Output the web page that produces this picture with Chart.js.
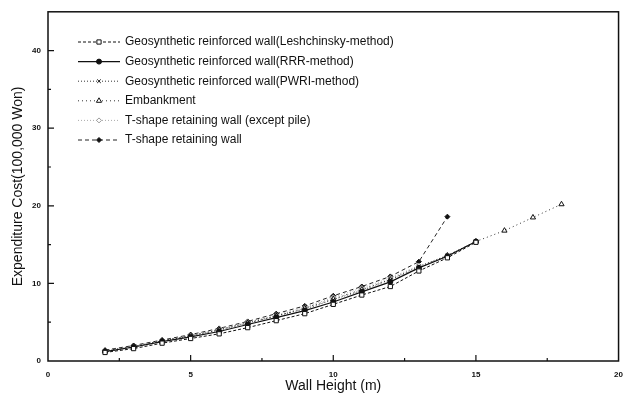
<!DOCTYPE html>
<html lang="en">
<head>
    <meta charset="UTF-8" />
    <title>Expenditure Cost vs Wall Height</title>
    <script src="https://cdn.jsdelivr.net/npm/chart.js"></script>
    <style>
        body {
            margin: 0;
            background: #fff;
        }
        .chart-box {
            width: 632px;
            height: 398px;
        }
    </style>
</head>
<body>

<div class="chart-box">
    <canvas id="costChart" width="632" height="398"></canvas>
</div>

<script>
    // wall heights (m)
    const heightsWall = [2, 3, 4, 5, 6, 7, 8, 9, 10, 11, 12, 13, 14, 15];
    const heightsEmbank = [2, 3, 4, 5, 6, 7, 8, 9, 10, 11, 12, 13, 14, 15, 16, 17, 18];
    const heightsTExPile = [2, 3, 4, 5, 6, 7, 8, 9, 10, 11, 12, 13];
    const heightsT = [2, 3, 4, 5, 6, 7, 8, 9, 10, 11, 12, 13, 14];

    // expenditure cost (100,000 Won)
    const costLeshchinsky = [1.1, 1.6, 2.3, 2.9, 3.5, 4.3, 5.2, 6.1, 7.3, 8.5, 9.6, 11.6, 13.3, 15.3];
    const costRRR = [1.2, 1.8, 2.5, 3.1, 3.8, 4.7, 5.6, 6.5, 7.6, 8.9, 10.2, 12.0, 13.5, 15.4];
    const costPWRI = [1.2, 1.8, 2.6, 3.2, 4.0, 4.9, 5.8, 6.7, 7.9, 9.1, 10.5, 12.2, 13.6, 15.4];
    const costEmbank = [1.3, 1.9, 2.6, 3.3, 4.0, 4.9, 5.8, 6.8, 8.0, 9.2, 10.5, 12.0, 13.6, 15.4, 16.8, 18.5, 20.2];
    const costTExPile = [1.3, 1.9, 2.6, 3.3, 4.1, 5.0, 5.9, 6.9, 8.2, 9.4, 10.7, 12.3];
    const costT = [1.4, 2.0, 2.7, 3.4, 4.2, 5.1, 6.1, 7.1, 8.4, 9.6, 10.9, 12.8, 18.6];

    const xTickLabels = [0, 5, 10, 15, 20];
    const yTickLabels = [0, 10, 20, 30, 40];

    function pairs(xs, ys) {
        return xs.map((x, i) => ({ x: x, y: ys[i] }));
    }

    const ink = '#111';

    const datasets = [
        {
            label: 'Geosynthetic reinforced wall(Leshchinsky-method)',
            data: pairs(heightsWall, costLeshchinsky),
            borderColor: ink, borderWidth: 1, borderDash: [3, 2],
            pointStyle: 'rect', pointRadius: 3, pointBackgroundColor: '#fff', pointBorderColor: ink, pointBorderWidth: 1
        },
        {
            label: 'Geosynthetic reinforced wall(RRR-method)',
            data: pairs(heightsWall, costRRR),
            borderColor: ink, borderWidth: 1.2, borderDash: [],
            pointStyle: 'circle', pointRadius: 2.5, pointBackgroundColor: ink, pointBorderColor: ink, pointBorderWidth: 1
        },
        {
            label: 'Geosynthetic reinforced wall(PWRI-method)',
            data: pairs(heightsWall, costPWRI),
            borderColor: '#333', borderWidth: 1, borderDash: [1, 2],
            pointStyle: 'crossRot', pointRadius: 2.5, pointBackgroundColor: ink, pointBorderColor: ink, pointBorderWidth: 1
        },
        {
            label: 'Embankment',
            data: pairs(heightsEmbank, costEmbank),
            borderColor: '#333', borderWidth: 1, borderDash: [1, 3],
            pointStyle: 'triangle', pointRadius: 3, pointBackgroundColor: '#fff', pointBorderColor: ink, pointBorderWidth: 1
        },
        {
            label: 'T-shape retaining wall (except pile)',
            data: pairs(heightsTExPile, costTExPile),
            borderColor: '#aaa', borderWidth: 1, borderDash: [1, 2],
            pointStyle: 'rectRot', pointRadius: 2.5, pointBackgroundColor: '#fff', pointBorderColor: '#999', pointBorderWidth: 1
        },
        {
            label: 'T-shape retaining wall',
            data: pairs(heightsT, costT),
            borderColor: '#222', borderWidth: 1, borderDash: [4, 3],
            pointStyle: 'rectRot', pointRadius: 2.5, pointBackgroundColor: ink, pointBorderColor: ink, pointBorderWidth: 1
        }
    ];

    // box round the plot with inward ticks
    const framePlugin = {
        id: 'frame',
        afterDraw(chart) {
            const { ctx, chartArea: a, scales } = chart;
            ctx.save();
            ctx.strokeStyle = ink;
            ctx.lineWidth = 1.5;
            ctx.setLineDash([]);
            ctx.strokeRect(a.left, a.top, a.right - a.left, a.bottom - a.top);
            ctx.lineWidth = 1.2;
            ctx.beginPath();
            for (let v = 2.5; v < 20; v += 2.5) {
                const px = scales.x.getPixelForValue(v);
                const len = v % 5 === 0 ? 6 : 3;
                ctx.moveTo(px, a.bottom);
                ctx.lineTo(px, a.bottom - len);
            }
            for (let v = 5; v <= 40; v += 5) {
                const py = scales.y.getPixelForValue(v);
                const len = v % 10 === 0 ? 6 : 3;
                ctx.moveTo(a.left, py);
                ctx.lineTo(a.left + len, py);
            }
            ctx.stroke();
            ctx.restore();
        }
    };

    // legend: line sample with marker, inside the plot at top left
    const legendPlugin = {
        id: 'sampleLegend',
        afterDraw(chart) {
            const ctx = chart.ctx;
            const x0 = 78, x1 = 120, textX = 125;
            let y = 42;
            ctx.save();
            ctx.font = '12px "Liberation Sans", Arial, sans-serif';
            ctx.textBaseline = 'middle';
            chart.data.datasets.forEach(ds => {
                ctx.strokeStyle = ds.borderColor;
                ctx.lineWidth = ds.borderWidth;
                ctx.setLineDash(ds.borderDash);
                ctx.beginPath();
                ctx.moveTo(x0, y);
                ctx.lineTo(x1, y);
                ctx.stroke();
                ctx.setLineDash([]);
                ctx.fillStyle = ds.pointBackgroundColor;
                ctx.strokeStyle = ds.pointBorderColor;
                ctx.lineWidth = 1;
                Chart.helpers.drawPoint(ctx, { pointStyle: ds.pointStyle, radius: ds.pointRadius, rotation: 0, borderWidth: 1 }, (x0 + x1) / 2, y);
                ctx.fillStyle = '#111';
                ctx.fillText(ds.label, textX, y);
                y += 19.6;
            });
            ctx.restore();
        }
    };

    const tickFont = { family: '"Liberation Sans", Arial, sans-serif', size: 8, weight: 'bold' };
    const titleFont = { family: '"Liberation Sans", Arial, sans-serif', size: 14 };

    new Chart(document.getElementById('costChart'), {
        type: 'line',
        data: { datasets: datasets },
        options: {
            responsive: false,
            animation: false,
            layout: { padding: { left: 0, right: 12, top: 10, bottom: 0 } },
            plugins: {
                legend: { display: false },
                tooltip: { enabled: false }
            },
            scales: {
                x: {
                    type: 'linear',
                    min: 0,
                    max: 20,
                    afterBuildTicks: s => { s.ticks = xTickLabels.map(v => ({ value: v })); },
                    afterFit: s => { s.height = 37; },
                    grid: { display: false, drawTicks: false },
                    border: { display: false },
                    ticks: { color: '#111', font: tickFont, padding: 9 },
                    title: { display: true, text: 'Wall Height (m)', color: '#111', font: titleFont, padding: { top: 0, bottom: 3 } }
                },
                y: {
                    type: 'linear',
                    min: 0,
                    max: 45,
                    afterBuildTicks: s => { s.ticks = yTickLabels.map(v => ({ value: v })); },
                    afterFit: s => { s.width = 48; },
                    grid: { display: false, drawTicks: false },
                    border: { display: false },
                    ticks: { color: '#111', font: tickFont, padding: 7 },
                    title: { display: true, text: 'Expenditure Cost(100,000 Won)', color: '#111', font: titleFont, padding: { top: 10, bottom: 0 } }
                }
            }
        },
        plugins: [framePlugin, legendPlugin]
    });
</script>

</body>
</html>
